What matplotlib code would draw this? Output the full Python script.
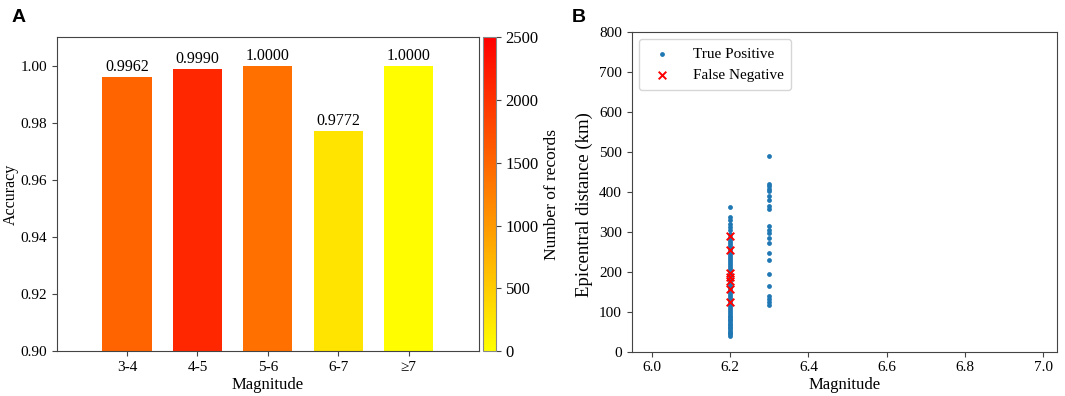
import matplotlib
matplotlib.use("Agg")
import matplotlib.pyplot as plt
from matplotlib import cm, colors
import numpy as np

# ---- data ----
mag_bins = ["3-4", "4-5", "5-6", "6-7", "≥7"]
accuracy = [0.9962, 0.9990, 1.0000, 0.9772, 1.0000]
n_records = [1520, 2110, 1400, 265, 20]

tp_62 = [40, 43, 47, 50, 54, 58, 62, 66, 70, 74, 78, 82, 86, 90, 95, 100, 105,
         110, 115, 120, 125, 130, 135, 140, 145, 150, 155, 160, 165, 170, 175,
         180, 185, 190, 195, 200, 205, 210, 215, 220, 225, 230, 235, 240, 245,
         250, 255, 260, 265, 270, 275, 280, 287, 293, 303, 311, 319, 328, 336, 361]
tp_63 = [489, 420, 414, 407, 401, 389, 380, 364, 357, 314, 305, 297, 284, 272,
         247, 228, 194, 165, 140, 132, 123, 117]
fn_62 = [290, 254, 196, 186, 176, 156, 124]

plt.rcParams['font.family'] = ['Liberation Serif', 'DejaVu Serif']
plt.rcParams['font.size'] = 11
plt.rcParams['axes.edgecolor'] = '#444444'
plt.rcParams['xtick.color'] = '#444444'
plt.rcParams['ytick.color'] = '#444444'
plt.rcParams['xtick.labelcolor'] = 'black'
plt.rcParams['ytick.labelcolor'] = 'black'
plt.rcParams['xtick.labelsize'] = 11
plt.rcParams['ytick.labelsize'] = 11

fig = plt.figure(figsize=(10.65, 3.96), dpi=100)

# ---- Panel A ----
axA = fig.add_axes([0.0532, 0.1136, 0.3966, 0.7922])
cax = fig.add_axes([0.4538, 0.1136, 0.0117, 0.7922])
cmap = matplotlib.colormaps['autumn_r']
norm = colors.Normalize(vmin=0, vmax=2500)
xpos = np.arange(len(mag_bins))
bars = axA.bar(xpos, accuracy, width=0.7, color=[cmap(norm(v)) for v in n_records])
for x, a in zip(xpos, accuracy):
    axA.text(x, a + 0.0006, f"{a:.4f}", ha='center', va='bottom', fontsize=11.5)
axA.set_xlim(-1, 5)
axA.set_ylim(0.90, 1.01)
axA.set_xticks(xpos)
axA.set_xticklabels(mag_bins)
axA.set_yticks([0.90, 0.92, 0.94, 0.96, 0.98, 1.00])
axA.set_yticklabels([f"{v:.2f}" for v in [0.90, 0.92, 0.94, 0.96, 0.98, 1.00]])
axA.set_xlabel("Magnitude", fontsize=12, labelpad=2)
axA.set_ylabel("Accuracy", fontsize=11.5, labelpad=1)

sm = cm.ScalarMappable(norm=norm, cmap=cmap)
cb = fig.colorbar(sm, cax=cax)
cb.set_ticks([0, 500, 1000, 1500, 2000, 2500])
cb.outline.set_edgecolor('#888888')
cb.ax.tick_params(labelsize=12)
cb.set_label("Number of records", fontsize=12.5, labelpad=4)

# ---- Panel B ----
axB = fig.add_axes([0.5931, 0.1119, 0.3991, 0.8081])
axB.scatter([6.2] * len(tp_62) + [6.3] * len(tp_63), tp_62 + tp_63,
            s=12, color='#1f77b4', marker='o', linewidths=0, label='True Positive', zorder=2)
axB.scatter([6.2] * len(fn_62), fn_62, s=30, color='red', marker='x',
            linewidths=1.4, label='False Negative', zorder=3)
axB.set_xlim(5.948, 7.035)
axB.set_ylim(0, 800)
axB.set_xticks([6.0, 6.2, 6.4, 6.6, 6.8, 7.0])
axB.set_xticklabels(["6.0", "6.2", "6.4", "6.6", "6.8", "7.0"])
axB.set_yticks(range(0, 801, 100))
axB.set_xlabel("Magnitude", fontsize=12, labelpad=2)
axB.set_ylabel("Epicentral distance (km)", fontsize=13.5, labelpad=3)
axB.yaxis.set_label_coords(-0.09, 0.46)
leg = axB.legend(loc='upper left', fontsize=11, frameon=True, borderpad=0.5,
                 handletextpad=1.0, labelspacing=0.5)
leg.get_frame().set_edgecolor('#cccccc')

fig.text(0.011, 0.945, "A", fontsize=14, fontweight='bold', family='Liberation Sans')
fig.text(0.537, 0.945, "B", fontsize=14, fontweight='bold', family='Liberation Sans')

fig.savefig("out.png", dpi=100)
